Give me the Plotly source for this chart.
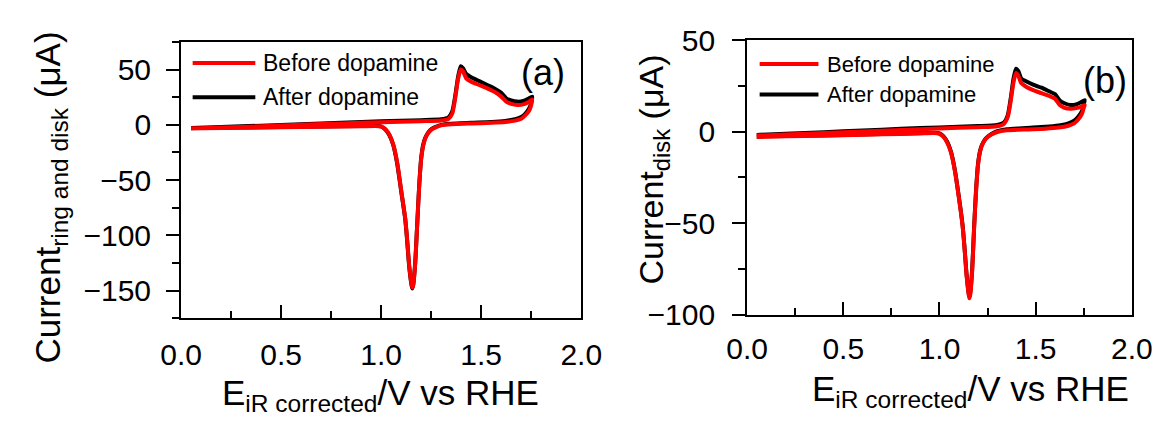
import plotly.graph_objects as go

# ---------------- data ----------------
# common potential grid (V vs RHE)
E_fwd = [0.05, 0.2, 0.4, 0.6, 0.8, 1.0, 1.2, 1.30, 1.335, 1.355, 1.37, 1.385, 1.398,
         1.41, 1.425, 1.45, 1.49, 1.53, 1.57, 1.60, 1.625, 1.65, 1.68, 1.71, 1.735, 1.755]
E_rev = [1.75, 1.74, 1.72, 1.70, 1.67, 1.62, 1.55, 1.45, 1.35, 1.30, 1.27, 1.25, 1.235,
         1.22, 1.21, 1.20, 1.19, 1.18, 1.17, 1.16, 1.155, 1.15, 1.14, 1.13, 1.12, 1.10,
         1.08, 1.06, 1.04, 1.02, 1.0, 0.97, 0.9, 0.7, 0.5, 0.3, 0.1, 0.05]

# panel (a): ring and disk current (uA)
Ia_after_fwd = [-2.8, -1.9, -0.8, 0.5, 2.0, 3.2, 4.2, 5.0, 6.5, 12, 26, 44, 53,
                51, 46, 43, 39.5, 36, 32.5, 29, 24, 22, 21, 21.5, 23.5, 25.5]
Ia_after_rev = [20, 15, 10, 7, 5, 3.5, 2.5, 1.8, 1.0, 0, -2, -4, -7,
                -12, -18, -30, -55, -90, -125, -145, -148, -143, -128, -105, -85, -60,
                -35, -18, -9, -4, -1.5, -0.8, -1.0, -1.5, -2.0, -2.4, -2.8, -3.0]
Ia_before_fwd = [-3.2, -2.4, -1.3, 0.0, 1.3, 2.4, 3.3, 3.9, 5.2, 10, 24, 42, 50,
                 48, 42, 39, 36, 33, 29.5, 25.5, 21, 19, 18, 18.5, 20.5, 23]
Ia_before_rev = [18, 13, 8.5, 5.5, 3.8, 2.5, 1.8, 1.2, 0.5, -0.5, -2.5, -4.5, -7.5,
                 -12.5, -19, -31, -56, -91, -126, -145, -147, -142, -127, -104, -84, -59,
                 -34, -17.5, -8.5, -3.8, -1.5, -1.0, -1.3, -1.8, -2.3, -2.7, -3.1, -3.2]

# panel (b): disk current (uA)
Ib_after_fwd = [-1.8, -1.2, -0.3, 0.6, 1.5, 2.3, 3.0, 3.6, 5.0, 9, 18, 29, 34.3,
                33, 29, 27.5, 25.5, 24, 22, 20.5, 17, 15.5, 14.5, 14.8, 16, 17.2]
Ib_after_rev = [15, 11, 8, 6, 4.5, 3.4, 2.6, 2.0, 1.3, 0.2, -1.3, -2.8, -4.5,
                -7.5, -11, -18, -32, -52, -75, -88, -90.5, -87, -77, -63, -51, -35,
                -21, -11, -5.5, -2.5, -1.0, -0.6, -0.8, -1.3, -1.8, -2.2, -2.6, -2.8]
Ib_before_fwd = [-2.2, -1.6, -0.8, 0.1, 0.9, 1.7, 2.4, 2.9, 4.2, 8, 16.5, 27, 32,
                 30.5, 26.5, 24.5, 22.5, 21, 19.5, 18, 14.5, 13, 12.5, 12.8, 13.5, 14.5]
Ib_before_rev = [13, 9.5, 6.5, 4.5, 3.2, 2.2, 1.6, 1.2, 0.7, -0.2, -1.6, -3.0, -4.8,
                 -7.8, -11.5, -18.5, -33, -53, -76, -89, -91, -87.5, -77.5, -63.5, -51.5, -35.5,
                 -21.5, -11.5, -6, -2.8, -1.2, -0.8, -1.0, -1.5, -2.0, -2.4, -2.8, -2.9]

series_names = ["Before dopamine", "After dopamine"]
series_colors = ["#ff0000", "#000000"]
x_ticks = [0.0, 0.5, 1.0, 1.5, 2.0]
x_ticktext = ["0.0", "0.5", "1.0", "1.5", "2.0"]
ya_ticks = [-150, -100, -50, 0, 50]
yb_ticks = [-100, -50, 0, 50]

# ---------------- figure ----------------
W, H = 1176, 434
FONT = "Arial, Liberation Sans, sans-serif"

fig = go.Figure()

def add_cv(E, I, color, xa, ya, name):
    fig.add_trace(go.Scatter(x=E, y=I, mode="lines", name=name, xaxis=xa, yaxis=ya,
                             line=dict(color=color, width=4, shape="spline", smoothing=0.6),
                             showlegend=False, hoverinfo="skip"))

add_cv(E_fwd + E_rev, Ia_after_fwd + Ia_after_rev, series_colors[1], "x", "y", series_names[1])
add_cv(E_fwd + E_rev, Ia_before_fwd + Ia_before_rev, series_colors[0], "x", "y", series_names[0])
add_cv(E_fwd + E_rev, Ib_after_fwd + Ib_after_rev, series_colors[1], "x2", "y2", series_names[1])
add_cv(E_fwd + E_rev, Ib_before_fwd + Ib_before_rev, series_colors[0], "x2", "y2", series_names[0])

def px_x(p):
    return p / W

def px_y(p):
    return 1 - p / H

xcommon = dict(range=[0, 2.0], tickvals=x_ticks, ticktext=x_ticktext,
               ticks="inside", ticklen=13, tickwidth=2, tickcolor="black",
               minor=dict(dtick=0.25, tick0=0, ticks="inside", ticklen=7, tickwidth=2, tickcolor="black"),
               showline=True, linewidth=2, linecolor="black", mirror=True,
               showgrid=False, zeroline=False,
               tickfont=dict(family=FONT, size=30, color="black"))
ycommon = dict(ticks="outside", ticklen=13, tickwidth=2, tickcolor="black",
               showline=True, linewidth=2, linecolor="black", mirror=True,
               showgrid=False, zeroline=False,
               tickfont=dict(family=FONT, size=30, color="black"))

fig.update_layout(
    width=W, height=H, margin=dict(l=0, r=0, t=0, b=0),
    paper_bgcolor="white", plot_bgcolor="white",
    font=dict(family=FONT, color="black"),
    xaxis=dict(domain=[px_x(166), px_x(581)], anchor="y", ticklabelstandoff=9, **xcommon),
    yaxis=dict(domain=[px_y(327), px_y(27)], anchor="x", range=[-175, 75], tickvals=ya_ticks,
               minor=dict(dtick=25, tick0=0, ticks="outside", ticklen=7, tickwidth=2, tickcolor="black"),
               ticklabelstandoff=9, **ycommon),
    xaxis2=dict(domain=[px_x(753), px_x(1152)], anchor="y2", ticklabelstandoff=6, **xcommon),
    yaxis2=dict(domain=[px_y(323), px_y(25)], anchor="x2", range=[-100, 50], tickvals=yb_ticks,
                minor=dict(dtick=25, tick0=0, ticks="outside", ticklen=7, tickwidth=2, tickcolor="black"),
                ticklabelstandoff=11, **ycommon),
)

# legends (drawn manually to match the long sample lines)
legend_specs = [
    # (line x0, line x1, text x, y rows, font size)
    (178, 243, 249, [50, 87], 23),
    (766, 827, 834, [51, 84], 22),
]
for x0, x1, xt, rows, fs in legend_specs:
    for name, color, yy in zip(series_names, series_colors, rows):
        fig.add_shape(type="line", xref="paper", yref="paper",
                      x0=px_x(x0), x1=px_x(x1), y0=px_y(yy), y1=px_y(yy),
                      line=dict(color=color, width=4))
        fig.add_annotation(text=name, xref="paper", yref="paper", x=px_x(xt), y=px_y(yy),
                           xanchor="left", yanchor="middle", showarrow=False,
                           font=dict(family=FONT, size=fs, color="black"))

# panel labels
fig.add_annotation(text="(a)", xref="paper", yref="paper", x=px_x(541), y=px_y(60),
                   xanchor="center", yanchor="middle", showarrow=False,
                   font=dict(family=FONT, size=36, color="black"))
fig.add_annotation(text="(b)", xref="paper", yref="paper", x=px_x(1124), y=px_y(69),
                   xanchor="center", yanchor="middle", showarrow=False,
                   font=dict(family=FONT, size=36, color="black"))

# axis titles
xtitle = "E<sub>iR corrected</sub>/V vs RHE"
fig.add_annotation(text=xtitle, xref="paper", yref="paper", x=px_x(373), y=px_y(410),
                   xanchor="center", yanchor="middle", showarrow=False,
                   font=dict(family=FONT, size=35, color="black"))
fig.add_annotation(text=xtitle, xref="paper", yref="paper", x=px_x(985), y=px_y(406),
                   xanchor="center", yanchor="middle", showarrow=False,
                   font=dict(family=FONT, size=35, color="black"))
fig.add_annotation(text="Current<sub>ring and disk</sub> (μA)", xref="paper", yref="paper",
                   x=px_x(30), y=px_y(196), textangle=-90,
                   xanchor="center", yanchor="middle", showarrow=False,
                   font=dict(family=FONT, size=35, color="black"))
fig.add_annotation(text="Current<sub>disk</sub> (μA)", xref="paper", yref="paper",
                   x=px_x(656), y=px_y(166), textangle=-90,
                   xanchor="center", yanchor="middle", showarrow=False,
                   font=dict(family=FONT, size=34, color="black"))

fig.write_html("out.html")
